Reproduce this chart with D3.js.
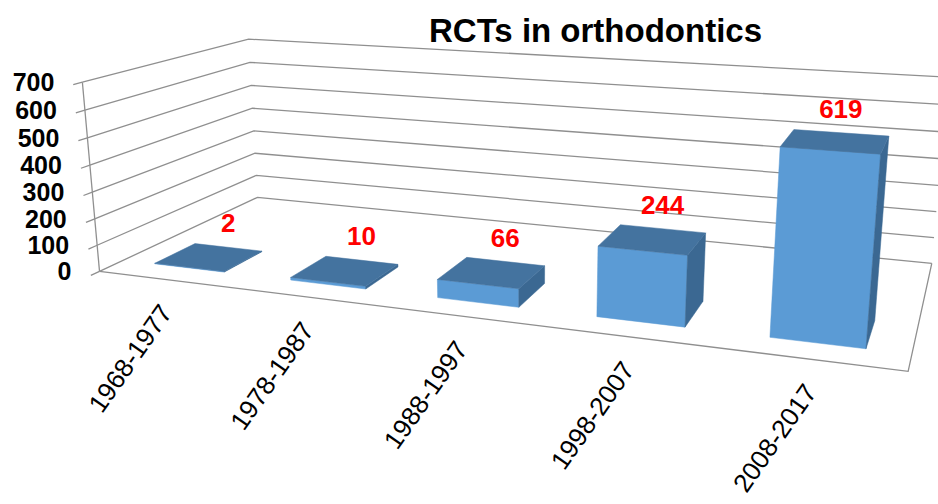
<!DOCTYPE html>
<html><head><meta charset="utf-8">
<script src="https://cdn.jsdelivr.net/npm/d3@7"></script>
<style>body{margin:0;background:#fff}svg{display:block}</style>
</head><body>
<script>
const categories = ["1968-1977","1978-1987","1988-1997","1998-2007","2008-2017"];
const values = [2,10,66,244,619];
const yTicks = [0,100,200,300,400,500,600,700];
const chartTitle = "RCTs in orthodontics";

const W = 938, H = 504;
// camera calibration of the 3-D frame: [category x, value, depth z, screen u, screen v]
const calib = [
  [0,0,0,100,271],[0,700,0,82,82],[0,0,1,257,198],[0,700,1,249,39],
  [5,0,1,932,263],[5,0,0,908,372],[5,100,1,934,237],[5,700,1,948,77.6]
];

const yW = d3.scaleLinear().domain([0,700]).range([0,1]);
const xB = d3.scaleBand().domain(categories).range([0,5]).paddingInner(0.48).paddingOuter(0.24);
const zFront = 0.13, zBack = 0.37;

function solve(A,b){
  const n=b.length; A=A.map((r,i)=>r.concat([b[i]]));
  for(let c=0;c<n;c++){
    let p=c; for(let r=c+1;r<n;r++) if(Math.abs(A[r][c])>Math.abs(A[p][c])) p=r;
    [A[c],A[p]]=[A[p],A[c]];
    for(let r=0;r<n;r++){ if(r===c) continue; const f=A[r][c]/A[c][c]; for(let k=c;k<=n;k++) A[r][k]-=f*A[c][k]; }
  }
  return A.map((r,i)=>r[n]/r[i]);
}
const rows=[], rhs=[];
calib.forEach(([X,V,Z,u,v])=>{ const Y=yW(V);
  rows.push([X,Y,Z,1,0,0,0,0,-u*X,-u*Y,-u*Z]); rhs.push(u);
  rows.push([0,0,0,0,X,Y,Z,1,-v*X,-v*Y,-v*Z]); rhs.push(v);
});
const N=[...Array(11)].map((_,i)=>[...Array(11)].map((_,j)=>d3.sum(rows,r=>r[i]*r[j])));
const R=[...Array(11)].map((_,i)=>d3.sum(rows,(r,k)=>r[i]*rhs[k]));
const p=solve(N,R);
const P=[[p[0],p[1],p[2],p[3]],[p[4],p[5],p[6],p[7]],[p[8],p[9],p[10],1]];
function proj(x,y,z){ const w=P[2][0]*x+P[2][1]*y+P[2][2]*z+1;
  return [(P[0][0]*x+P[0][1]*y+P[0][2]*z+P[0][3])/w,(P[1][0]*x+P[1][1]*y+P[1][2]*z+P[1][3])/w]; }
const cam = solve([[P[0][0],P[0][1],P[0][2]],[P[1][0],P[1][1],P[1][2]],[P[2][0],P[2][1],P[2][2]]],[-P[0][3],-P[1][3],-1]);

const svg=d3.select("body").append("svg").attr("width",W).attr("height",H);
const line=d3.line();
const gridC="#8f8f8f";
const g=svg.append("g");
yTicks.forEach(t=>{
  const y=yW(t);
  g.append("path").attr("d",line([proj(0,y,0),proj(0,y,1),proj(5,y,1)])).attr("fill","none").attr("stroke",gridC).attr("stroke-width",1.3);
  g.append("path").attr("d",line([proj(0,y,0),proj(0,y,-0.045)])).attr("stroke",gridC).attr("stroke-width",1.3);
});
g.append("path").attr("d",line([proj(0,0,0),proj(5,0,0),proj(5,0,1)])).attr("fill","none").attr("stroke",gridC).attr("stroke-width",1.3);
g.append("path").attr("d",line([proj(0,0,0),proj(0,yW(700),0)])).attr("stroke",gridC).attr("stroke-width",1.3);

svg.append("g").selectAll("text").data(yTicks).join("text")
  .attr("x",d=>proj(0,yW(d),0)[0]-28).attr("y",d=>proj(0,yW(d),0)[1]+9)
  .attr("text-anchor","end").attr("font-family","Liberation Sans, Arial, sans-serif")
  .attr("font-weight","bold").attr("font-size",25).attr("fill","#000").text(d=>d);

const colors={front:"#5b9bd5",top:"#44739f",right:"#3b6892",left:"#3b6892",back:"#3b6892",bottom:"#3b6892"};
const bars=categories.map((c,i)=>({c,v:values[i],x0:xB(c),x1:xB(c)+xB.bandwidth()}));
bars.forEach(b=>{b.dist=Math.hypot((b.x0+b.x1)/2-cam[0],yW(b.v)/2-cam[1],(zFront+zBack)/2-cam[2]);});
bars.sort((a,b)=>b.dist-a.dist);
const bg=svg.append("g");
bars.forEach(b=>{
  const y1=yW(b.v), x0=b.x0,x1=b.x1,z0=zFront,z1=zBack;
  const faces=[
    {n:"front",pts:[[x0,0,z0],[x1,0,z0],[x1,y1,z0],[x0,y1,z0]],c:[(x0+x1)/2,y1/2,z0],nv:[0,0,-1]},
    {n:"back",pts:[[x0,0,z1],[x1,0,z1],[x1,y1,z1],[x0,y1,z1]],c:[(x0+x1)/2,y1/2,z1],nv:[0,0,1]},
    {n:"left",pts:[[x0,0,z0],[x0,0,z1],[x0,y1,z1],[x0,y1,z0]],c:[x0,y1/2,(z0+z1)/2],nv:[-1,0,0]},
    {n:"right",pts:[[x1,0,z0],[x1,0,z1],[x1,y1,z1],[x1,y1,z0]],c:[x1,y1/2,(z0+z1)/2],nv:[1,0,0]},
    {n:"top",pts:[[x0,y1,z0],[x1,y1,z0],[x1,y1,z1],[x0,y1,z1]],c:[(x0+x1)/2,y1,(z0+z1)/2],nv:[0,1,0]},
  ];
  faces.forEach(f=>{
    const d=(cam[0]-f.c[0])*f.nv[0]+(cam[1]-f.c[1])*f.nv[1]+(cam[2]-f.c[2])*f.nv[2];
    if(d<=0) return;
    bg.append("path").attr("d",line(f.pts.map(q=>proj(...q)))+"Z").attr("fill",colors[f.n]).attr("stroke",colors[f.n]).attr("stroke-width",0.5).attr("stroke-linejoin","round");
  });
});
const lblZ = zBack;
svg.append("g").selectAll("text").data(categories).join("text")
  .attr("x",(c,i)=>proj(xB(c)+xB.bandwidth()/2,yW(values[i]),lblZ)[0])
  .attr("y",(c,i)=>proj(xB(c)+xB.bandwidth()/2,yW(values[i]),lblZ)[1]-15)
  .attr("text-anchor","middle").attr("font-family","Liberation Sans, Arial, sans-serif")
  .attr("font-weight","bold").attr("font-size",26).attr("fill","#ff0000").text((c,i)=>values[i]);
svg.append("g").selectAll("text").data(categories).join("text")
  .attr("transform",c=>{const q=proj(xB(c)+xB.bandwidth()/2,0,0);return `translate(${q[0]+7},${q[1]+33}) rotate(-55)`;})
  .attr("text-anchor","end").attr("font-family","Liberation Sans, Arial, sans-serif")
  .attr("font-size",26).attr("fill","#000").text(c=>c);
svg.append("text").attr("x",595.5).attr("y",42).attr("text-anchor","middle")
  .attr("font-family","Liberation Sans, Arial, sans-serif").attr("font-weight","bold").attr("font-size",33).text(chartTitle);
</script>
</body></html>
